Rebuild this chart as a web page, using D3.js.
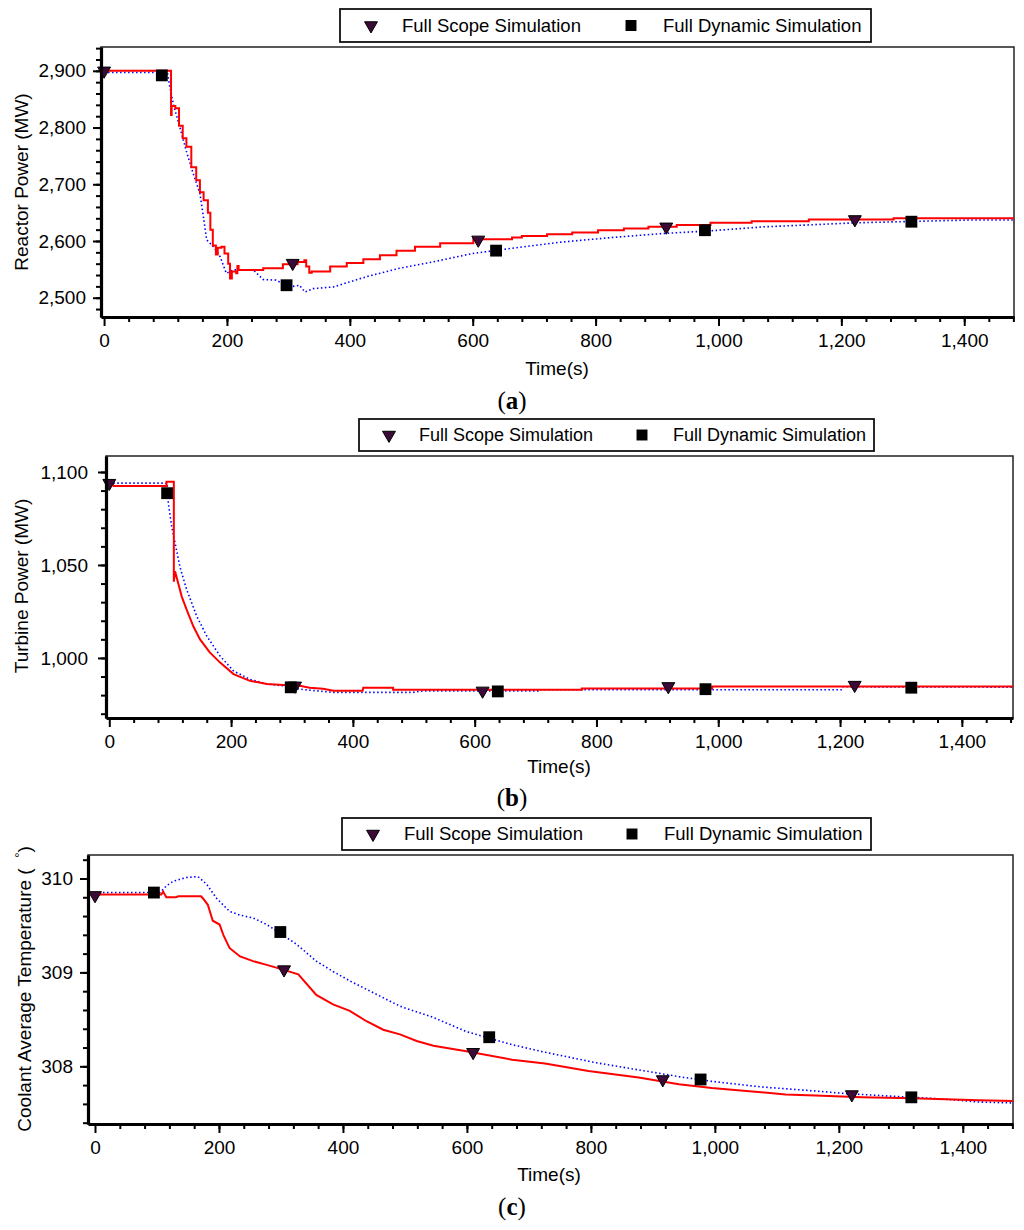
<!DOCTYPE html>
<html>
<head>
<meta charset="utf-8">
<script src="https://cdn.jsdelivr.net/npm/d3@7"></script>
<style>
  body { margin: 0; background: #fff; }
  svg text { font-family: Arial, "Liberation Sans", sans-serif; fill: #000; }
</style>
</head>
<body>
<svg id="chart" width="1024" height="1230"></svg>
<script>
// ---- data ----
// (a) reactor power, MW
const reactorScopeTime  = [0,106,109,110,116,122,128,134,142,150,156,162,169,173,177,182,185,191,196,202,205,208,215,217,219,240,259,291,315,326,329,334,338,368,395,422,449,476,506,547,601,664,680,721,762,804,846,886,932,987,1054,1147,1285,1481];
const reactorScopePower = [2900,2900,2822,2838,2834,2803,2781,2766,2730,2707,2686,2672,2650,2620,2592,2576,2588,2590,2578,2560,2534,2546,2543,2556,2549,2549,2552,2559,2563,2566,2555,2544,2546,2555,2561,2568,2575,2583,2590,2596,2603,2606,2609,2612,2615,2619,2622,2625,2628,2632,2635,2638,2640,2640];
const reactorDynTime  = [0,103,107,113,124,134,145,156,162,167,178,189,199,210,243,259,280,302,318,327,340,373,427,481,535,600,663,744,825,907,988,1074,1140,1221,1258,1410,1481];
const reactorDynPower = [2897,2897,2872,2840,2798,2758,2719,2684,2640,2602,2590,2572,2543,2549,2549,2532,2531,2519,2522,2510,2516,2519,2537,2552,2563,2578,2587,2598,2606,2613,2618,2625,2628,2632,2633,2637,2637];
const reactorScopeMarkT = [0,307,609,915,1222];
const reactorScopeMarkV = [2900,2561,2602,2625,2638];
const reactorDynMarkT   = [94,297,638,978,1314];
const reactorDynMarkV   = [2892,2522,2583,2619,2634];

// (b) turbine power, MW
const turbineScopeTime  = [0,6,7,94,94,106,106,108,113,119,127,138,149,165,182,204,231,259,286,313,329,351,368,416,417,466,466,776,776,990,990,1484];
const turbineScopePower = [1093.6,1093.6,1092.5,1092.5,1094.7,1094.7,1041,1046.6,1040.4,1033,1026,1017,1010,1003,997.5,991.3,987.7,986,985.5,985,984,983.4,982.3,982.3,984,984,982.9,982.9,983.6,983.6,984.7,984.7];
const turbineDynTime  = [0,95,97,102.5,108,116,127,143.5,160,182,204,231,259,286,313,341,368,499,516,705,706,1202,1204,1484];
const turbineDynPower = [1094,1094,1083,1070.7,1061.8,1049,1036.8,1022.5,1011.8,1001,993,988.5,986,985,983.2,982.3,981.5,981.5,982.3,982.3,982.9,982.9,984.5,984.3];
const turbineScopeMarkT = [0,305,613,918,1224];
const turbineScopeMarkV = [1094,985,982.3,984.7,985.4];
const turbineDynMarkT   = [95,298,638,979,1317];
const turbineDynMarkV   = [1088.6,984.2,982,983.2,984];

// (c) coolant average temperature
const coolantScopeTime = [0,107,110,115,130,135,171,174,182,190,201,207,217,234,255,277,298,328,357,384,411,438,465,492,519,546,599,673,726,796,877,942,995,1065,1114,1162,1237,1318,1426,1481];
const coolantScopeTemp = [309.83,309.83,309.86,309.80,309.80,309.81,309.81,309.79,309.72,309.55,309.51,309.40,309.26,309.17,309.12,309.08,309.04,308.98,308.76,308.66,308.59,308.48,308.39,308.34,308.27,308.22,308.16,308.07,308.03,307.95,307.88,307.81,307.77,307.73,307.70,307.69,307.67,307.66,307.64,307.63];
const coolantDynTime = [0,105,115,126,147,166,180,196,217,234,255,277,298,325,357,384,411,438,465,492,546,599,673,726,807,888,942,995,1076,1157,1211,1291,1372,1426,1481];
const coolantDynTemp = [309.85,309.85,309.92,309.97,310.01,310.02,309.94,309.79,309.65,309.61,309.58,309.51,309.42,309.30,309.12,309.01,308.91,308.82,308.73,308.64,308.52,308.37,308.23,308.15,308.04,307.95,307.89,307.84,307.78,307.74,307.71,307.68,307.65,307.62,307.61];
const coolantScopeMarkT = [0,305,610,916,1221];
const coolantScopeMarkV = [309.82,309.03,308.15,307.86,307.70];
const coolantDynMarkT   = [95,299,636,977,1317];
const coolantDynMarkV   = [309.85,309.43,308.31,307.86,307.67];

// ticks and labels
const timeTicks = [0,200,400,600,800,1000,1200,1400];
const reactorTicks = [2500,2600,2700,2800,2900];
const turbineTicks = [1000,1050,1100];
const coolantTicks = [308,309,310];
const legendLabels = ["Full Scope Simulation", "Full Dynamic Simulation"];

const zip = (t, v) => t.map((d, i) => [d, v[i]]);

const panels = [
  { tag: "a", l: 101, r: 1014, t: 47, b: 317, xDom: [-5, 1481], yDom: [2466, 2942],
    yTicks: reactorTicks, yMinor: d3.range(2480, 2941, 20), fmt: d3.format(","), pad: 7,
    yTitle: "Reactor Power (MW)", titleX: 21, titleY: 182,
    scope: zip(reactorScopeTime, reactorScopePower), dyn: zip(reactorDynTime, reactorDynPower),
    scopeMarks: zip(reactorScopeMarkT, reactorScopeMarkV), dynMarks: zip(reactorDynMarkT, reactorDynMarkV),
    scopeCurve: d3.curveStepAfter,
    legend: { x0: 340, y0: 9, x1: 871, y1: 42, s1: 371, t1: 402, s2: 631, t2: 663, fs: 18.5 },
    timeX: 557, timeY: 368, capY: 400 },
  { tag: "b", l: 106, r: 1013, t: 456, b: 718, xDom: [-5.4, 1484], yDom: [967.7, 1108.6],
    yTicks: turbineTicks, yMinor: d3.range(970, 1101, 10), fmt: d3.format(","), pad: 10,
    yTitle: "Turbine Power (MW)", titleX: 21, titleY: 586,
    scope: zip(turbineScopeTime, turbineScopePower), dyn: zip(turbineDynTime, turbineDynPower),
    scopeMarks: zip(turbineScopeMarkT, turbineScopeMarkV), dynMarks: zip(turbineDynMarkT, turbineDynMarkV),
    scopeCurve: d3.curveLinear,
    legend: { x0: 359, y0: 419, x1: 874, y1: 451, s1: 389, t1: 419, s2: 642, t2: 673, fs: 18 },
    timeX: 559, timeY: 766, capY: 797 },
  { tag: "c", l: 88, r: 1013, t: 855, b: 1124, xDom: [-11.3, 1481], yDom: [307.386, 310.25],
    yTicks: coolantTicks, yMinor: d3.range(307.4, 310.21, 0.2), fmt: d3.format("d"), pad: 7,
    yTitle: "Coolant Average Temperature (", titleX: 24, titleY: 989,
    scope: zip(coolantScopeTime, coolantScopeTemp), dyn: zip(coolantDynTime, coolantDynTemp),
    scopeMarks: zip(coolantScopeMarkT, coolantScopeMarkV), dynMarks: zip(coolantDynMarkT, coolantDynMarkV),
    scopeCurve: d3.curveLinear,
    legend: { x0: 342, y0: 818, x1: 871, y1: 850, s1: 373, t1: 404, s2: 632, t2: 664, fs: 18.5 },
    timeX: 549, timeY: 1174, capY: 1206 }
];

const svg = d3.select("#chart");
const tri = d3.symbol(d3.symbolTriangle, 72);
const sq = d3.symbol(d3.symbolSquare, 140);

function scopeMarker(sel) {
  sel.attr("d", tri).attr("fill", "#3b0a36").attr("stroke", "#000").attr("stroke-width", 1);
}
function dynMarker(sel) {
  sel.attr("d", sq).attr("fill", "#000");
}

function drawPanel(p) {
  const x = d3.scaleLinear().domain(p.xDom).range([p.l, p.r]);
  const y = d3.scaleLinear().domain(p.yDom).range([p.b, p.t]);
  const g = svg.append("g");

  g.append("clipPath").attr("id", "clip-" + p.tag)
    .append("rect").attr("x", p.l).attr("y", p.t).attr("width", p.r - p.l).attr("height", p.b - p.t);

  g.append("rect")
    .attr("x", p.l).attr("y", p.t).attr("width", p.r - p.l).attr("height", p.b - p.t)
    .attr("fill", "none").attr("stroke", "#222").attr("stroke-width", 1.5);

  const plot = g.append("g").attr("clip-path", `url(#clip-${p.tag})`);

  plot.append("path").datum(p.dyn)
    .attr("fill", "none").attr("stroke", "#0000ff").attr("stroke-width", 1.6)
    .attr("stroke-dasharray", "1.5,2.5")
    .attr("d", d3.line().x(d => x(d[0])).y(d => y(d[1])));

  plot.append("path").datum(p.scope)
    .attr("fill", "none").attr("stroke", "#ff0000").attr("stroke-width", 2)
    .attr("d", d3.line().curve(p.scopeCurve).x(d => x(d[0])).y(d => y(d[1])));

  g.selectAll(".tri").data(p.scopeMarks).enter().append("path")
    .attr("transform", d => `translate(${x(d[0])},${y(d[1])}) rotate(180)`)
    .call(scopeMarker);
  g.selectAll(".sq").data(p.dynMarks).enter().append("path")
    .attr("transform", d => `translate(${x(d[0])},${y(d[1])})`)
    .call(dynMarker);

  // axes
  const yAx = g.append("g").attr("transform", `translate(${p.l},0)`)
    .call(d3.axisLeft(y).tickValues(p.yTicks).tickSize(8).tickSizeOuter(0).tickPadding(p.pad).tickFormat(p.fmt));
  g.append("g").attr("transform", `translate(${p.l},0)`)
    .call(d3.axisLeft(y).tickValues(p.yMinor).tickSize(5).tickFormat(""))
    .call(a => a.select(".domain").remove())
    .selectAll(".tick line").attr("stroke-width", 2);

  const xAx = g.append("g").attr("transform", `translate(0,${p.b})`)
    .call(d3.axisBottom(x).tickValues(timeTicks).tickSize(9).tickSizeOuter(0).tickPadding(8).tickFormat(d3.format(",")));
  g.append("g").attr("transform", `translate(0,${p.b})`)
    .call(d3.axisBottom(x).tickValues(d3.range(40, 1481, 40)).tickSize(5).tickFormat(""))
    .call(a => a.select(".domain").remove())
    .selectAll(".tick line").attr("stroke-width", 2);

  [yAx, xAx].forEach(a => {
    a.select(".domain").attr("stroke-width", 3.2).attr("stroke", "#000");
    a.selectAll(".tick line").attr("stroke-width", 2);
    a.selectAll(".tick text").attr("font-size", 19).attr("font-family", "Arial, 'Liberation Sans', sans-serif");
  });

  // y title
  const yt = g.append("text")
    .attr("transform", `translate(${p.titleX},${p.titleY}) rotate(-90)`)
    .attr("text-anchor", "middle").attr("dy", "0.35em").attr("font-size", 19)
    .text(p.yTitle);
  if (p.tag === "c") {
    yt.append("tspan").text("\u00a0\u00a0");
    yt.append("tspan").attr("dy", -7).attr("font-size", 13).text("\u00b0");
    yt.append("tspan").attr("dy", 7).text(")");
  }

  g.append("text").attr("x", p.timeX).attr("y", p.timeY).attr("dy", "0.35em")
    .attr("text-anchor", "middle").attr("font-size", 19).text("Time(s)");

  const cap = g.append("text").attr("x", 512).attr("y", p.capY).attr("dy", "0.35em")
    .attr("text-anchor", "middle").attr("font-size", 25)
    .style("font-family", "'Liberation Serif', 'Times New Roman', serif");
  cap.append("tspan").text("(");
  cap.append("tspan").attr("font-weight", "bold").text(p.tag);
  cap.append("tspan").text(")");

  // legend
  const L = p.legend, ly = (L.y0 + L.y1) / 2;
  g.append("rect").attr("x", L.x0).attr("y", L.y0).attr("width", L.x1 - L.x0).attr("height", L.y1 - L.y0)
    .attr("fill", "#fff").attr("stroke", "#111").attr("stroke-width", 1.8);
  g.append("path").attr("transform", `translate(${L.s1},${ly}) rotate(180)`).call(scopeMarker);
  g.append("path").attr("transform", `translate(${L.s2},${ly})`).attr("d", d3.symbol(d3.symbolSquare, 120)).attr("fill", "#000");
  g.append("text").attr("x", L.t1).attr("y", ly).attr("dy", "0.35em").attr("font-size", L.fs).text(legendLabels[0]);
  g.append("text").attr("x", L.t2).attr("y", ly).attr("dy", "0.35em").attr("font-size", L.fs).text(legendLabels[1]);
}

panels.forEach(drawPanel);
</script>
</body>
</html>
